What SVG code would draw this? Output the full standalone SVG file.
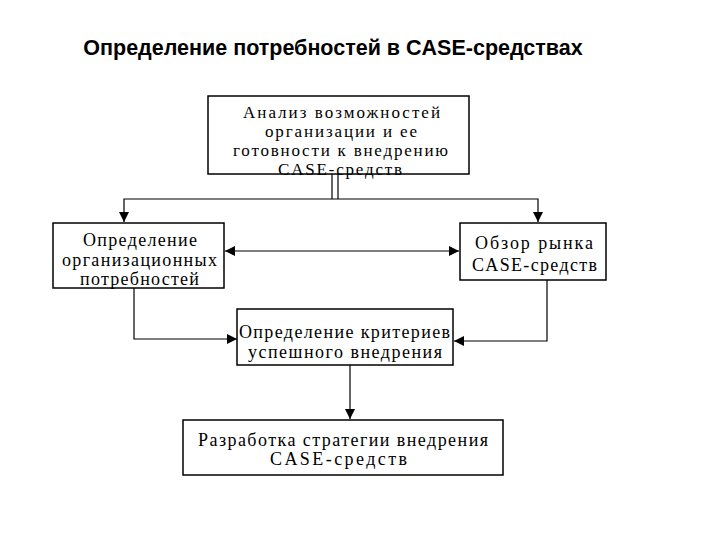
<svg xmlns="http://www.w3.org/2000/svg" width="720" height="540" viewBox="0 0 720 540">
<style>
.box{fill:#fff;stroke:#000;stroke-width:1.5}
.t{font-family:"Liberation Serif","Times New Roman",serif;font-size:18px;fill:#000;text-anchor:start}
.s{font-size:17px}
.ln{fill:none;stroke:#000;stroke-width:1.2}
.title{font-family:"Liberation Sans",Arial,sans-serif;font-size:21.5px;font-weight:bold;fill:#000;text-anchor:middle}
</style>
<defs>
<marker id="ah" viewBox="0 0 10 10" refX="10" refY="5" markerWidth="10" markerHeight="10" markerUnits="userSpaceOnUse" orient="auto-start-reverse">
<path d="M0,0 L10,5 L0,10 Z" fill="#000"/>
</marker>
</defs>
<rect width="720" height="540" fill="#fff"/>
<text class="title" x="333" y="55">Определение потребностей в CASE-средствах</text>

<g id="connectors">
<line class="ln" x1="332" y1="174" x2="332" y2="199"/>
<line class="ln" x1="338" y1="174" x2="338" y2="199"/>
<polyline class="ln" points="124,222 124,199 538,199 538,222" marker-start="url(#ah)" marker-end="url(#ah)"/>
<line class="ln" x1="225" y1="251" x2="459" y2="251" marker-start="url(#ah)" marker-end="url(#ah)"/>
<polyline class="ln" points="134,288 134,339 237,339" marker-end="url(#ah)"/>
<polyline class="ln" points="547,280 547,341 454,341" marker-end="url(#ah)"/>
<line class="ln" x1="350" y1="365" x2="350" y2="419" marker-end="url(#ah)"/>
</g>

<g id="n1">
<rect class="box" x="208" y="96" width="261" height="78"/>
<text class="t s" x="243" y="118" textLength="197" lengthAdjust="spacing">Анализ возможностей</text>
<text class="t s" x="265" y="137" textLength="152" lengthAdjust="spacing">организации и ее</text>
<text class="t s" x="233" y="156" textLength="215" lengthAdjust="spacing">готовности к внедрению</text>
<text class="t s" x="278" y="175" textLength="124" lengthAdjust="spacing">CASE-средств</text>
</g>

<g id="n2">
<rect class="box" x="53" y="223" width="171" height="65"/>
<text class="t" x="83" y="246" textLength="114" lengthAdjust="spacing">Определение</text>
<text class="t" x="62" y="266" textLength="155" lengthAdjust="spacing">организационных</text>
<text class="t" x="80" y="285" textLength="119" lengthAdjust="spacing">потребностей</text>
</g>

<g id="n3">
<rect class="box" x="460" y="223" width="146" height="57"/>
<text class="t" x="475" y="249" textLength="118" lengthAdjust="spacing">Обзор рынка</text>
<text class="t" x="472" y="271" textLength="125" lengthAdjust="spacing">CASE-средств</text>
</g>

<g id="n4">
<rect class="box" x="237" y="309" width="216" height="56"/>
<text class="t" x="239" y="338" textLength="211" lengthAdjust="spacing">Определение критериев</text>
<text class="t" x="248" y="358" textLength="194" lengthAdjust="spacing">успешного внедрения</text>
</g>

<g id="n5">
<rect class="box" x="183" y="420" width="320" height="55"/>
<text class="t" x="198" y="446" textLength="290" lengthAdjust="spacing">Разработка стратегии внедрения</text>
<text class="t" x="270" y="465" textLength="137" lengthAdjust="spacing">CASE-средств</text>
</g>
</svg>
